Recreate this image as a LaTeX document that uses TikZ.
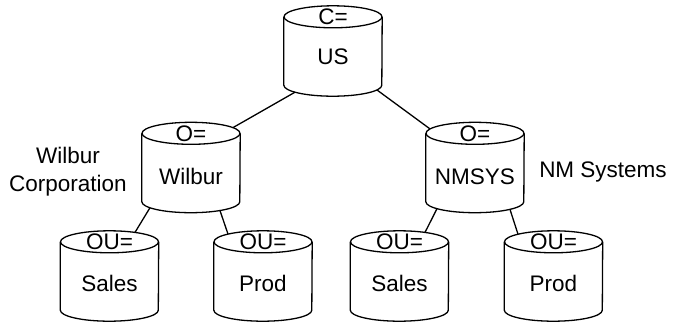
\documentclass[tikz,border=0pt]{standalone}
\usepackage{fontspec}
\setmainfont{Liberation Sans}
\usetikzlibrary{calc}

\tikzset{
  dbox/.style={rectangle, minimum width=98pt, minimum height=90pt, inner sep=0pt},
  dbline/.style={line width=1.3pt, line join=round},
  lbl/.style={inner sep=0pt, font=\fontsize{22.5}{28}\selectfont}
}
% cylinder outline round a named dbox node
\newcommand{\dbcyl}[1]{%
  \draw[dbline] ([yshift=-11pt]#1.north west) -- ([yshift=11pt]#1.south west)
    arc[start angle=180, end angle=360, x radius=49pt, y radius=11pt]
    -- ([yshift=-11pt]#1.north east);
  \draw[dbline] ([yshift=-11pt]#1.north) ellipse[x radius=49pt, y radius=11pt];}

\begin{document}
\begin{tikzpicture}[x=1pt, y=-1pt]
\useasboundingbox (0,0) rectangle (673,322);

% top level
\node[dbox] (us) at (333,51) {};
\dbcyl{us}
\node[lbl] (usa) at ([yshift=-11pt]us.north) {C=};
\node[lbl] (usn) at ([yshift=-6pt]us.center) {US};

% organisations
\node[dbox] (wil) at (191,167.5) {};
\dbcyl{wil}
\node[lbl] (wila) at ([yshift=-11pt]wil.north) {O=};
\node[lbl] (wiln) at ([yshift=-9pt]wil.center) {Wilbur};
\node[lbl, align=center] (wilc) at (68,172) {Wilbur\\Corporation};

\node[dbox] (nms) at (475,167.5) {};
\dbcyl{nms}
\node[lbl] (nmsa) at ([yshift=-11pt]nms.north) {O=};
\node[lbl] (nmsn) at ([yshift=-9pt]nms.center) {NMSYS};
\node[lbl] (nmsc) at (603,172) {NM Systems};

% units
\node[dbox] (sal1) at (109.5,276) {};
\dbcyl{sal1}
\node[lbl] (sal1a) at ([yshift=-11pt]sal1.north) {OU=};
\node[lbl] (sal1n) at ([yshift=-7pt]sal1.center) {Sales};
\node[dbox] (pro1) at (263,276) {};
\dbcyl{pro1}
\node[lbl] (pro1a) at ([yshift=-11pt]pro1.north) {OU=};
\node[lbl] (pro1n) at ([yshift=-7pt]pro1.center) {Prod};
\node[dbox] (sal2) at (399.5,276) {};
\dbcyl{sal2}
\node[lbl] (sal2a) at ([yshift=-11pt]sal2.north) {OU=};
\node[lbl] (sal2n) at ([yshift=-7pt]sal2.center) {Sales};
\node[dbox] (pro2) at (553.5,276) {};
\dbcyl{pro2}
\node[lbl] (pro2a) at ([yshift=-11pt]pro2.north) {OU=};
\node[lbl] (pro2n) at ([yshift=-7pt]pro2.center) {Prod};

% tree lines
\draw[dbline] ([shift={(-38pt,4pt)}]us.south) -- ([shift={(42pt,-5.3pt)}]wil.north);
\draw[dbline] ([shift={(44pt,6.2pt)}]us.south) -- ([shift={(-45pt,-6.6pt)}]nms.north);
\draw[dbline] ([shift={(-41pt,5pt)}]wil.south) -- ([shift={(25.5pt,-1.6pt)}]sal1.north);
\draw[dbline] ([shift={(29pt,2.1pt)}]wil.south) -- ([shift={(-35pt,-3.3pt)}]pro1.north);
\draw[dbline] ([shift={(-38pt,4pt)}]nms.south) -- ([shift={(25.5pt,-1.6pt)}]sal2.north);
\draw[dbline] ([shift={(35pt,3.3pt)}]nms.south) -- ([shift={(-35.5pt,-3.4pt)}]pro2.north);
\end{tikzpicture}
\end{document}
